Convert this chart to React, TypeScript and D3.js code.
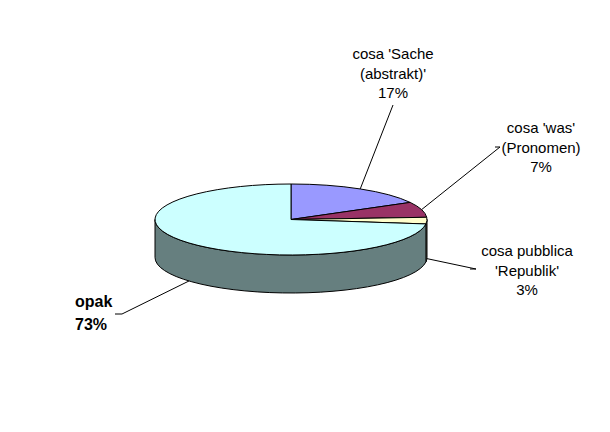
import React from "react";
import * as d3 from "d3";

// Slice data, clockwise from 12 o'clock
const categories: string[][] = [
  ["cosa 'Sache", "(abstrakt)'"],
  ["cosa 'was'", "(Pronomen)"],
  ["cosa pubblica", "'Republik'"],
  ["opak"],
];
const values = [17, 7, 3, 73];
const topColors = ["#9999FF", "#993366", "#FFFFCC", "#CCFFFF"];
const sideColors = ["#5C5C99", "#5C1F3D", "#99997A", "#667F7F"];

// Label layout: anchor position, alignment, leader end point
const labelLayout = [
  { x: 393, y: 59, anchor: "middle", bold: false, lead: [[393, 105]] },
  { x: 541, y: 133, anchor: "middle", bold: false, lead: [[500, 147], [495, 147]] },
  { x: 527, y: 256, anchor: "middle", bold: false, lead: [[476, 269], [470, 269]] },
  { x: 75, y: 307, anchor: "start", bold: true, lead: [[122, 314], [115, 314]] },
];

const W = 610;
const H = 432;
const cx = 291;
const cy = 219.5;
const rx = 136;
const ry = 35.5;
const depth = 38;

const pt = (a: number, dy = 0): [number, number] => [
  cx + rx * Math.sin(a),
  cy - ry * Math.cos(a) + dy,
];

export default function App() {
  const pie = d3
    .pie<number>()
    .sort(null)
    .value((d) => d)
    .startAngle(0)
    .endAngle(2 * Math.PI);
  const arcs = pie(values);
  const total = d3.sum(values);

  const topPath = (a0: number, a1: number) => {
    const p0 = pt(a0);
    const p1 = pt(a1);
    const large = a1 - a0 > Math.PI ? 1 : 0;
    return `M${cx},${cy}L${p0[0]},${p0[1]}A${rx},${ry} 0 ${large} 1 ${p1[0]},${p1[1]}Z`;
  };

  const sidePath = (a0: number, a1: number) => {
    const s = Math.max(a0, Math.PI / 2);
    const e = Math.min(a1, (3 * Math.PI) / 2);
    if (e <= s) return null;
    const p0 = pt(s);
    const p1 = pt(e);
    const q1 = pt(e, depth);
    const q0 = pt(s, depth);
    return `M${p0[0]},${p0[1]}A${rx},${ry} 0 0 1 ${p1[0]},${p1[1]}L${q1[0]},${q1[1]}A${rx},${ry} 0 0 0 ${q0[0]},${q0[1]}Z`;
  };

  const line = d3.line();

  return (
    <svg
      width={W}
      height={H}
      style={{ position: "absolute", left: 0, top: 0, background: "#fff" }}
      fontFamily="'Liberation Sans', Arial, sans-serif"
    >
      {arcs.map((a, i) => {
        const d = sidePath(a.startAngle, a.endAngle);
        return d ? (
          <path key={"s" + i} d={d} fill={sideColors[i]} stroke="#000" strokeWidth={1} strokeLinejoin="round" />
        ) : null;
      })}
      {arcs.map((a, i) => (
        <path
          key={"t" + i}
          d={topPath(a.startAngle, a.endAngle)}
          fill={topColors[i]}
          stroke="#000"
          strokeWidth={1}
          strokeLinejoin="round"
        />
      ))}
      {arcs.map((a, i) => {
        const mid = (a.startAngle + a.endAngle) / 2;
        const front = Math.cos(mid) < 0;
        const start = pt(mid, front ? depth : 0);
        const pts: [number, number][] = [start, ...(labelLayout[i].lead as [number, number][])];
        return <path key={"l" + i} d={line(pts) || ""} fill="none" stroke="#000" strokeWidth={1} />;
      })}
      {arcs.map((a, i) => {
        const L = labelLayout[i];
        const lines = [...categories[i], `${Math.round((values[i] / total) * 100)}%`];
        const fs = L.bold ? 16 : 15;
        const lh = L.bold ? 23 : 19.5;
        return (
          <text
            key={"x" + i}
            x={L.x}
            y={L.y}
            textAnchor={L.anchor as any}
            fontSize={fs}
            fontWeight={L.bold ? "bold" : "normal"}
            fill="#000"
          >
            {lines.map((t, j) => (
              <tspan key={j} x={L.x} y={L.y + j * lh}>
                {t}
              </tspan>
            ))}
          </text>
        );
      })}
    </svg>
  );
}
